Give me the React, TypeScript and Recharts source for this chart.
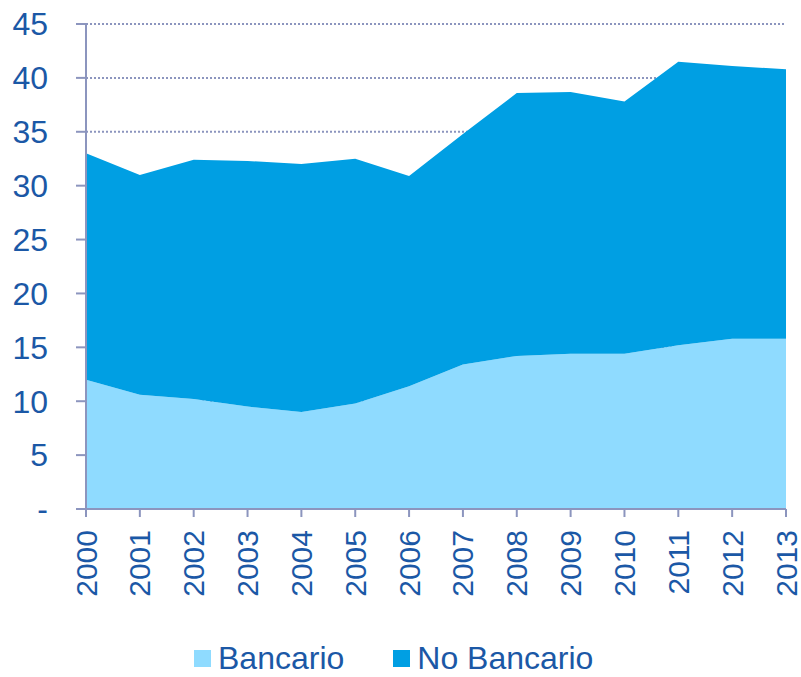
import { Area, AreaChart, CartesianGrid, Legend, XAxis, YAxis } from "recharts";

const years = ["2000", "2001", "2002", "2003", "2004", "2005", "2006", "2007", "2008", "2009", "2010", "2011", "2012", "2013"];
const bancario = [12.0, 10.6, 10.2, 9.5, 9.0, 9.8, 11.4, 13.4, 14.2, 14.4, 14.4, 15.2, 15.8, 15.8];
const noBancario = [21.0, 20.4, 22.2, 22.8, 23.0, 22.7, 19.5, 21.4, 24.4, 24.3, 23.4, 26.3, 25.3, 25.0];
const yTicks = [0, 5, 10, 15, 20, 25, 30, 35, 40, 45];

const data = years.map((year, i) => ({ year, bancario: bancario[i], noBancario: noBancario[i] }));

const TEXT = "#1b58a6";
const AXIS = "#8c95be";
const LIGHT = "#8fdbff";
const DARK = "#009fe3";
const FONT = "Liberation Sans, Arial, sans-serif";

function YearTick(props: any) {
  const { x, y, payload } = props;
  return (
    <text x={x} y={y} transform={`rotate(-90 ${x} ${y})`} textAnchor="end" dominantBaseline="central" fill={TEXT} fontSize={30} fontFamily={FONT}>
      {payload.value}
    </text>
  );
}

function LegendBox() {
  const items = [
    { label: "Bancario", color: LIGHT },
    { label: "No Bancario", color: DARK },
  ];
  return (
    <div style={{ height: 58, display: "flex", alignItems: "flex-end", paddingLeft: 194, fontFamily: FONT, fontSize: 32, color: TEXT }}>
      {items.map((it) => (
        <div key={it.label} style={{ display: "flex", alignItems: "center", marginRight: 49 }}>
          <span style={{ width: 17, height: 17, background: it.color, display: "inline-block", marginRight: 7 }} />
          <span>{it.label}</span>
        </div>
      ))}
    </div>
  );
}

export default function App() {
  return (
    <div style={{ position: "absolute", left: 0, top: 0, background: "#fff" }}>
      <AreaChart width={801} height={677} data={data} margin={{ top: 24, right: 15, left: 0, bottom: 0 }}>
        <CartesianGrid vertical={false} stroke={AXIS} strokeDasharray="2 2" strokeWidth={2} />
        <XAxis dataKey="year" height={110} stroke={AXIS} strokeWidth={2} tickSize={8} tickMargin={13} tick={<YearTick />} interval={0} />
        <YAxis
          width={86}
          domain={[0, 45]}
          ticks={yTicks}
          interval={0}
          stroke={AXIS}
          strokeWidth={2}
          tickSize={10}
          tickMargin={28}
          tick={{ fill: TEXT, fontSize: 32, fontFamily: FONT }}
          tickFormatter={(v: number) => (v === 0 ? "-" : String(v))}
        />
        <Area type="linear" dataKey="bancario" stackId="1" stroke="none" fill={LIGHT} fillOpacity={1} isAnimationActive={false} />
        <Area type="linear" dataKey="noBancario" stackId="1" stroke="none" fill={DARK} fillOpacity={1} isAnimationActive={false} />
        <Legend verticalAlign="bottom" content={<LegendBox />} />
      </AreaChart>
    </div>
  );
}
